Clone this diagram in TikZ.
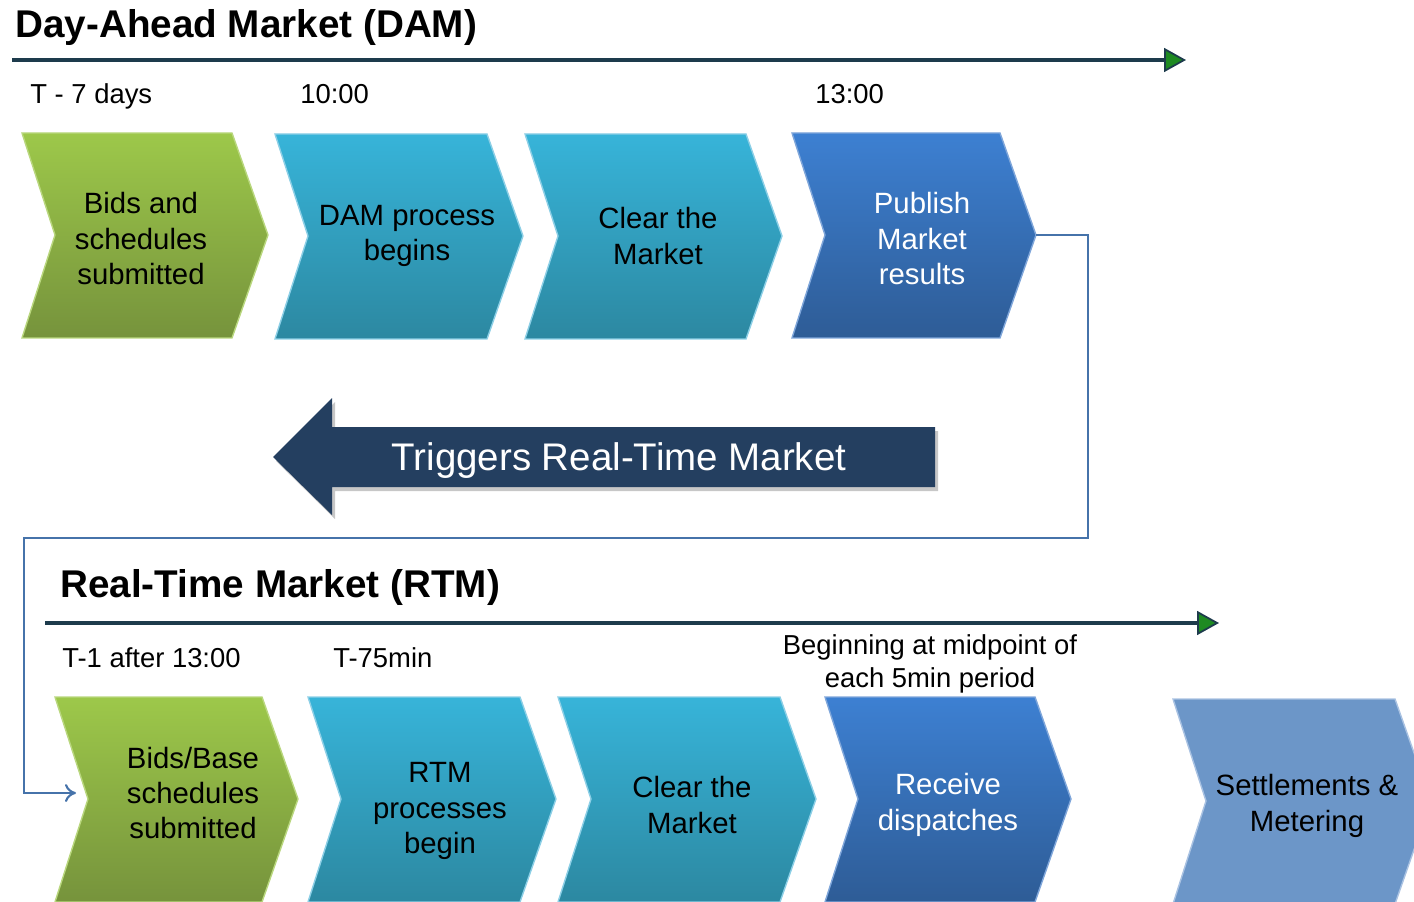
\documentclass[tikz,border=0pt]{standalone}
\usepackage{fontspec}
\setmainfont{Liberation Sans}
\usetikzlibrary{arrows.meta}
\definecolor{grnT}{HTML}{9DC84A}
\definecolor{grnB}{HTML}{76933C}
\definecolor{grnL}{HTML}{B9D77E}
\definecolor{tealT}{HTML}{37B4D9}
\definecolor{tealB}{HTML}{2C88A1}
\definecolor{tealL}{HTML}{8CCFE6}
\definecolor{bluT}{HTML}{3D80D2}
\definecolor{bluB}{HTML}{2E5C96}
\definecolor{bluL}{HTML}{7FA6DA}
\definecolor{setF}{HTML}{6C96C8}
\definecolor{setL}{HTML}{A9C2E2}
\definecolor{navy}{HTML}{243F60}
\definecolor{tline}{HTML}{1D3B4C}
\definecolor{tgreen}{HTML}{1E8A22}
\definecolor{linkblue}{HTML}{4673AA}
\newcommand{\chev}[5]{%
	\draw[#5] (#2,#3) -- ++(#4,0) -- ++(36,102) -- ++(-36,103) -- ++(-#4,0) -- ++(33,-103) -- cycle;
	\coordinate (#1tip) at (#2+#4+36,#3+102);
	\coordinate (#1in) at (#2+33,#3+96);
}
\tikzset{
	grnbox/.style={top color=grnT, bottom color=grnB, draw=grnL, line width=0.8pt},
	tealbox/.style={top color=tealT, bottom color=tealB, draw=tealL, line width=0.8pt},
	blubox/.style={top color=bluT, bottom color=bluB, draw=bluL, line width=0.8pt},
	setbox/.style={fill=setF, draw=setL, line width=0.8pt},
	chevtext/.style={align=center, inner sep=0pt, font=\fontsize{16.7}{20.2}\selectfont},
	title/.style={anchor=base west, inner sep=0pt, font=\fontsize{22}{26}\selectfont\bfseries},
	when/.style={anchor=base west, inner sep=0pt, font=\fontsize{15.6}{18.8}\selectfont},
	timeline/.style={draw=tline, line width=2.4pt, -{Triangle[length=0.44cm,width=0.48cm,line width=1pt,fill=tgreen]}},
	link/.style={draw=linkblue, line width=1.2pt, -{To[length=2.2mm,width=3.6mm]}, shorten >=0.24cm}
}
\begin{document}
\begin{tikzpicture}[x=0.02cm, y=-0.02cm]
	\useasboundingbox (0,0) rectangle (1414,902);
	\clip (0,0) rectangle (1414,902);
	
	\node[title] (dam) at (15,38) {Day-Ahead Market (DAM)};
	\coordinate (dstart) at (12,60);
	\coordinate (dend) at (1186,60);
	\draw[timeline] (dstart) -- (dend);
	
	\node[when] (t7) at (30,104) {T - 7 days};
	\node[when] (t10) at (300,104) {10:00};
	\node[when] (t13) at (815,104) {13:00};
	
	\chev{dbid}{22}{133}{210}{grnbox}
	\chev{dproc}{275}{134}{212}{tealbox}
	\chev{dclear}{525}{134}{221}{tealbox}
	\chev{dpub}{792}{133}{208}{blubox}
	\node[chevtext] (dbid) at (141,239) {Bids and\\schedules\\submitted};
	\node[chevtext] (dproc) at (407,236) {DAM process\\begins};
	\node[chevtext] (dclear) at (658,236) {Clear the\\Market};
	\node[chevtext, text=white] (dpub) at (922,239) {Publish\\Market\\results};
	
	\fill[black!22] (938,431) -- (335,431) -- (335,402) -- (276,461) -- (335,519) -- (335,491) -- (938,491) -- cycle;
	\fill[navy] (935,427) -- (332,427) -- (332,398) -- (273,457) -- (332,515) -- (332,487) -- (935,487) -- cycle;
	\node[text=white, font=\fontsize{21.9}{26}\selectfont] (trig) at (619,461) {Triggers Real-Time Market};
	
	\node[title] (rtm) at (60,597) {Real-Time Market (RTM)};
	\coordinate (rstart) at (45,623);
	\coordinate (rend) at (1219,623);
	\draw[timeline] (rstart) -- (rend);
	
	\node[when] (t1) at (62,667) {T-1 after 13:00};
	\node[when] (t75) at (333,667) {T-75min};
	\node[align=center, inner sep=0pt, font=\fontsize{15.6}{18.8}\selectfont] (mid) at (930,664) {Beginning at midpoint of\\each 5min period};
	
	\chev{rbid}{55}{697}{207}{grnbox}
	\chev{rproc}{308}{697}{212}{tealbox}
	\chev{rclear}{558}{697}{222}{tealbox}
	\chev{rdisp}{825}{697}{210}{blubox}
	\chev{rsettle}{1173}{699}{222}{setbox}
	\node[chevtext] (rbid) at (193,793) {Bids/Base\\schedules\\submitted};
	\node[chevtext] (rproc) at (440,811) {RTM\\processes\\begin};
	\node[chevtext] (rclear) at (692,805) {Clear the\\Market};
	\node[chevtext, text=white] (rdisp) at (948,805) {Receive\\dispatches};
	\node[chevtext] (rsettle) at (1307,806) {Settlements \&\\Metering};
	
	\coordinate (bendA) at (1088,538);
	\coordinate (bendB) at (24,538);
	\draw[link] (dpubtip) -| (bendA) -- (bendB) |- (rbidin);
\end{tikzpicture}
\end{document}
